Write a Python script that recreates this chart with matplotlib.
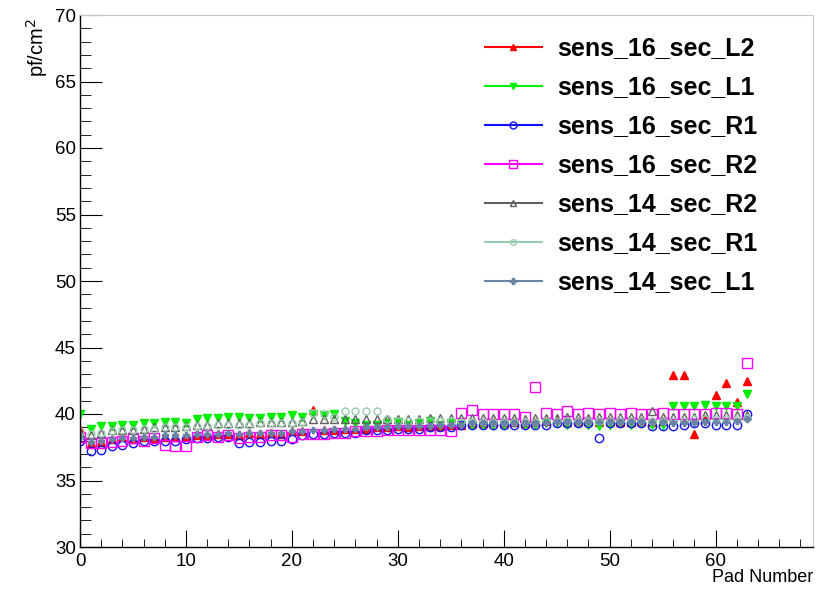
import matplotlib

matplotlib.use("Agg")
import matplotlib.pyplot as plt
from matplotlib.lines import Line2D
from matplotlib.ticker import MultipleLocator

plt.rcParams["font.family"] = ["Liberation Sans", "DejaVu Sans"]

# --- dati (pad 0..63) ---
pads = list(range(64))

l2_16 = [38.9, 37.8, 37.9, 38.1, 38.3, 38.1, 38.3, 38.2, 38.3, 38.3,
         38.3, 38.4, 38.4, 38.5, 38.5, 38.4, 38.6, 38.5, 38.6, 38.5,
         38.7, 38.7, 40.3, 38.8, 38.8, 38.9, 38.9, 38.9, 39.0, 39.0,
         39.1, 39.0, 39.1, 39.1, 39.1, 39.2, 39.2, 39.3, 39.3, 39.4,
         39.3, 39.4, 39.3, 39.4, 39.5, 39.6, 39.4, 39.5, 39.5, 39.4,
         39.5, 39.4, 39.4, 39.5, 39.4, 39.5, 42.9, 42.9, 38.5, 39.6,
         41.4, 42.3, 40.9, 42.5]

l1_16 = [40.0, 38.9, 39.1, 39.1, 39.2, 39.2, 39.3, 39.3, 39.4, 39.4,
         39.3, 39.6, 39.7, 39.7, 39.8, 39.8, 39.7, 39.7, 39.8, 39.8,
         39.9, 39.8, 40.0, 39.9, 40.0, 39.5, 39.3, 39.2, 39.2, 39.3,
         39.4, 39.2, 39.3, 39.5, 39.2, 39.3, 39.2, 39.2, 39.2, 39.2,
         39.2, 39.3, 39.2, 39.2, 39.3, 39.3, 39.2, 39.3, 39.2, 39.1,
         39.2, 39.3, 39.2, 39.3, 39.2, 39.2, 40.6, 40.6, 40.6, 40.7,
         40.6, 40.6, 40.6, 41.5]

r1_16 = [38.0, 37.2, 37.3, 37.6, 37.7, 37.8, 38.0, 38.0, 38.0, 38.0,
         38.1, 38.2, 38.2, 38.3, 38.3, 37.8, 37.9, 37.9, 38.0, 38.0,
         38.1, 38.4, 38.5, 38.5, 38.6, 38.6, 38.6, 38.8, 38.8, 38.8,
         38.9, 38.9, 38.9, 39.0, 39.0, 39.0, 39.2, 39.2, 39.2, 39.2,
         39.2, 39.2, 39.2, 39.2, 39.2, 39.3, 39.3, 39.3, 39.3, 38.2,
         39.3, 39.3, 39.3, 39.3, 39.1, 39.1, 39.1, 39.2, 39.3, 39.3,
         39.2, 39.2, 39.2, 40.0]

r2_16 = [38.3, 37.8, 37.8, 37.9, 38.0, 38.2, 38.0, 38.2, 37.7, 37.6,
         37.6, 38.3, 38.4, 38.3, 38.4, 38.2, 38.3, 38.3, 38.4, 38.4,
         38.3, 38.5, 38.5, 38.5, 38.6, 38.6, 38.7, 38.7, 38.7, 38.8,
         38.8, 38.8, 38.8, 38.8, 38.8, 38.7, 40.1, 40.3, 40.0, 40.0,
         40.0, 40.0, 39.8, 42.0, 40.1, 40.0, 40.2, 40.0, 40.1, 40.0,
         40.1, 40.0, 40.1, 40.0, 40.0, 40.1, 40.0, 40.0, 40.0, 40.0,
         40.1, 40.1, 40.0, 43.8]

r2_14 = [38.6, 38.4, 38.6, 38.8, 38.8, 38.8, 38.9, 39.0, 39.0, 39.0,
         39.1, 39.2, 39.2, 39.3, 39.3, 39.3, 39.3, 39.4, 39.4, 39.4,
         39.4, 39.5, 39.6, 39.6, 39.6, 39.6, 39.6, 39.6, 39.6, 39.6,
         39.6, 39.6, 39.6, 39.7, 39.7, 39.7, 39.7, 39.7, 39.7, 39.7,
         39.7, 39.7, 39.6, 39.7, 39.7, 39.7, 39.8, 39.8, 39.7, 39.8,
         39.8, 39.8, 39.8, 39.8, 40.2, 39.8, 39.8, 39.8, 39.8, 39.9,
         39.9, 39.9, 39.9, 39.9]

r1_14 = [38.7, 38.5, 38.6, 38.7, 38.8, 38.8, 38.9, 38.9, 39.0, 39.0,
         39.0, 39.1, 39.1, 39.2, 39.2, 39.2, 39.2, 39.3, 39.3, 39.3,
         39.3, 39.4, 40.1, 40.0, 39.8, 40.2, 40.2, 40.2, 40.2, 39.6,
         39.5, 39.5, 39.5, 39.5, 39.5, 39.5, 39.4, 39.4, 39.4, 39.4,
         39.4, 39.4, 39.4, 39.4, 39.5, 39.5, 39.5, 39.5, 39.5, 39.5,
         39.5, 39.5, 39.5, 39.5, 39.5, 39.5, 39.5, 39.5, 39.6, 39.6,
         39.6, 39.6, 39.6, 39.7]

l1_14 = [38.3, 37.9, 38.0, 38.1, 38.2, 38.2, 38.3, 38.3, 38.4, 38.4,
         38.4, 38.5, 38.5, 38.5, 38.6, 38.5, 38.6, 38.6, 38.6, 38.6,
         38.7, 38.7, 38.8, 38.8, 38.9, 38.9, 38.9, 39.0, 39.0, 39.0,
         39.1, 39.1, 39.1, 39.1, 39.2, 39.2, 39.2, 39.3, 39.3, 39.3,
         39.3, 39.3, 39.3, 39.3, 39.3, 39.4, 39.4, 39.4, 39.4, 39.4,
         39.4, 39.4, 39.4, 39.4, 39.4, 39.4, 39.3, 39.3, 39.3, 39.4,
         39.4, 39.4, 39.5, 39.6]

series = [
    ("sens_16_sec_L2", l2_16, "#ff0000", "^", True, 5.5),
    ("sens_16_sec_L1", l1_16, "#00ee00", "v", True, 5.5),
    ("sens_16_sec_R1", r1_16, "#1010ff", "o", False, 6),
    ("sens_16_sec_R2", r2_16, "#ff00ff", "s", False, 7),
    ("sens_14_sec_R2", r2_14, "#606060", "^", False, 6),
    ("sens_14_sec_R1", r1_14, "#99ccb0", "o", False, 5),
    ("sens_14_sec_L1", l1_14, "#6a84a6", "P", True, 5),
]

fig = plt.figure(figsize=(8.27, 5.90), dpi=100)
ax = fig.add_axes([80 / 827, 43 / 590, 733 / 827, 532 / 590])

handles = []
for name, vals, col, mk, filled, ms in series:
    fc = col if filled else "none"
    ax.plot(pads, vals, linestyle="none", marker=mk, markersize=ms,
            markerfacecolor=fc, markeredgecolor=col, markeredgewidth=1.0)
    handles.append(Line2D([0], [0], color=col, lw=1.5, marker=mk,
                          markersize=ms - 1, markerfacecolor=fc,
                          markeredgecolor=col, label=name))

ax.set_xlim(0, 69.2)
ax.set_ylim(30, 70)
ax.xaxis.set_major_locator(MultipleLocator(10))
ax.xaxis.set_minor_locator(MultipleLocator(2))
ax.yaxis.set_major_locator(MultipleLocator(5))
ax.yaxis.set_minor_locator(MultipleLocator(1))

ax.tick_params(axis="both", which="both", direction="in", top=False, right=False,
               labelsize=13.5, colors="black")
ax.tick_params(axis="x", which="major", length=12, pad=4)
ax.tick_params(axis="x", which="minor", length=6)
ax.tick_params(axis="y", which="major", length=16, pad=3)
ax.tick_params(axis="y", which="minor", length=8)

for side in ["top", "right"]:
    ax.spines[side].set_color("#c8c8c8")
    ax.spines[side].set_linewidth(0.8)
for side in ["left", "bottom"]:
    ax.spines[side].set_linewidth(1.0)

leg = fig.legend(handles=handles, loc="upper left",
                 bbox_to_anchor=(462 / 827, 1 - 14 / 590),
                 bbox_transform=fig.transFigure,
                 frameon=False, numpoints=1, handlelength=2.28,
                 handletextpad=0.64, labelspacing=0.6, borderpad=0.4,
                 prop={"weight": "bold", "size": 18})

fig.text(37 / 827, 1 - 18 / 590, "pf/cm$^2$", rotation=90, ha="center",
         va="top", fontsize=14.5)
fig.text(813 / 827, 1 - 578 / 590, "Pad Number", ha="right", va="center",
         fontsize=13)

fig.savefig("out.png", dpi=100)
